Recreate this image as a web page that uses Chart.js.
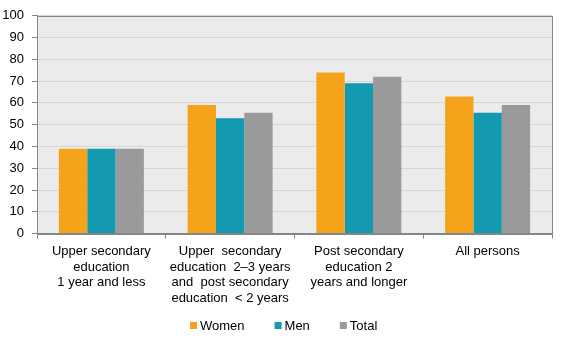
<!DOCTYPE html>
<html>
<head>
<meta charset="utf-8">
<script src="https://cdn.jsdelivr.net/npm/chart.js@4"></script>
<style>
  html, body { margin: 0; padding: 0; background: #fff; }
  #wrap { width: 567px; height: 340px; }
</style>
</head>
<body>
<div id="wrap"><canvas id="eduChart"></canvas></div>
<script>
const categories = [
    ['Upper secondary', 'education', '1 year and less'],
    ['Upper  secondary', 'education  2\u20133 years', 'and  post secondary', 'education  < 2 years'],
    ['Post secondary', 'education 2', 'years and longer'],
    ['All persons']
];
const women = [39, 59, 74, 63];
const men = [39, 53, 69, 55.5];
const total = [39, 55.5, 72, 59];
const yTicks = [0, 10, 20, 30, 40, 50, 60, 70, 80, 90, 100];

const fontFamily = 'Arial, "Liberation Sans", sans-serif';
const labelFont = { family: fontFamily, size: 13 };

// grey plot background plus a frame round the chart area
const plotFrame = {
    id: 'plotFrame',
    beforeDraw(chart) {
        const { ctx, chartArea: a } = chart;
        ctx.save();
        ctx.fillStyle = '#ebebeb';
        ctx.fillRect(a.left, a.top, a.right - a.left, a.bottom - a.top);
        ctx.restore();
    },
    afterDatasetsDraw(chart) {
        const { ctx, chartArea: a } = chart;
        ctx.save();
        ctx.strokeStyle = '#868686';
        ctx.lineWidth = 1;
        ctx.strokeRect(Math.round(a.left) + 0.5, Math.round(a.top) + 0.5,
            Math.round(a.right - a.left), Math.round(a.bottom - a.top));
        ctx.restore();
    }
};

// legend row under the axis labels: small square, then the series name
const bottomLegend = {
    id: 'bottomLegend',
    afterDraw(chart) {
        const ctx = chart.ctx;
        const sets = chart.data.datasets;
        const box = 7, gap = 3, spacing = 30, y = 325;
        ctx.save();
        ctx.font = '13px ' + fontFamily;
        ctx.textBaseline = 'middle';
        const widths = sets.map(ds => box + gap + ctx.measureText(ds.label).width);
        const full = widths.reduce((s, w) => s + w, 0) + spacing * (sets.length - 1);
        let x = Math.round(chart.width / 2 - full / 2);
        sets.forEach((ds, i) => {
            ctx.fillStyle = ds.backgroundColor;
            ctx.fillRect(x, y - 3, box, box);
            ctx.fillStyle = '#000';
            ctx.fillText(ds.label, x + box + gap, y + 1);
            x += widths[i] + spacing;
        });
        ctx.restore();
    }
};

const ctx = document.getElementById('eduChart').getContext('2d');
new Chart(ctx, {
    type: 'bar',
    data: {
        labels: categories,
        datasets: [
            { label: 'Women', data: women, backgroundColor: '#f4a31a' },
            { label: 'Men', data: men, backgroundColor: '#1399b0' },
            { label: 'Total', data: total, backgroundColor: '#9a9a9a' }
        ]
    },
    options: {
        responsive: true,
        maintainAspectRatio: false,
        animation: false,
        layout: { padding: { top: 9, right: 15, left: 2, bottom: 29 } },
        datasets: { bar: { barPercentage: 1, categoryPercentage: 0.66 } },
        scales: {
            x: {
                grid: { offset: true, drawOnChartArea: false, drawTicks: true, tickLength: 5, color: '#868686' },
                border: { color: '#868686' },
                ticks: { color: '#000', font: labelFont, maxRotation: 0, padding: 5 }
            },
            y: {
                min: 0,
                max: 100,
                afterBuildTicks(scale) { scale.ticks = yTicks.map(v => ({ value: v })); },
                afterFit(scale) { scale.width = 35; },
                grid: { color: '#d6d6d6', tickLength: 5, tickColor: '#868686' },
                border: { color: '#868686' },
                ticks: { color: '#000', font: labelFont, padding: 8 }
            }
        },
        plugins: {
            legend: { display: false },
            tooltip: { enabled: false }
        }
    },
    plugins: [plotFrame, bottomLegend]
});
</script>
</body>
</html>
